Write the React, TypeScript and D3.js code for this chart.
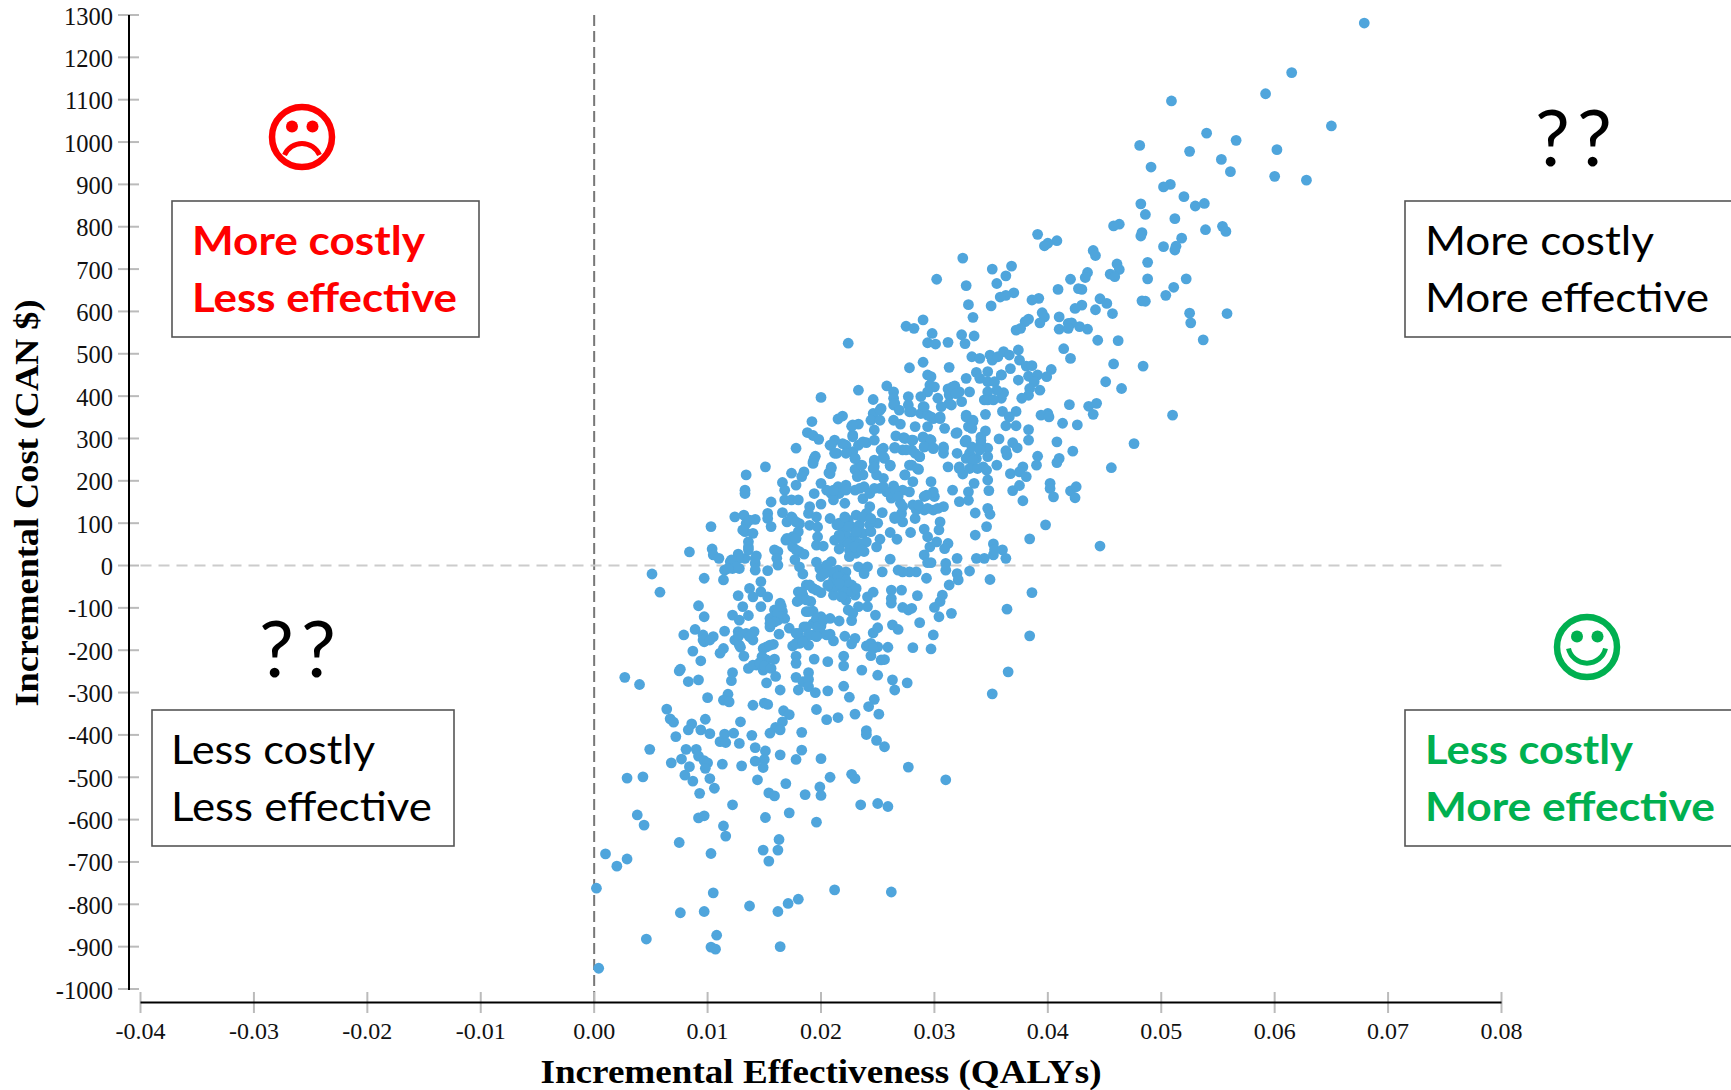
import React from "react";
import * as d3 from "d3";

// Each point: [incremental effectiveness in 0.001 QALY, incremental cost in CAN $]
const upperTail: number[][] = [
[67.9,1281],[61.5,1164],[59.2,1114],[50.9,1097],[65,1038],[54,1021],[56.6,1004],[48.1,992],[52.5,978],[60.2,982],[55.3,959],[49.1,941],[56.1,930],[60,919],[62.8,910],[50.8,900],[50.2,894],[52,871],[53,849],[53.8,855],[48.2,854],[48.6,829],[51.2,819],[46.3,806],[45.8,802],[55.4,801],[55.7,789],[53.9,793],[48.3,786],[48.2,778],[51.8,773],[39.1,782],[40.8,767],[40,761],[39.7,755],[50.2,753],[51.3,754],[51.2,745],[44,744],[44.2,732],[36.8,707],[46.1,712],[46.3,699],[45.5,688],[45.9,682],[48.8,716],[43.5,692],[43.3,680],[36.3,684],[42,676],[48.8,677],[52.2,677],[51.1,657],[42.7,654],[43,652],[40.9,652],[37,644],[36.3,638],[35.8,634],[39.2,631],[38.6,627],[44.6,630],[45.2,619],[50.4,638],[48.3,625],[48.6,624],[43,615],[42.4,607],[44.2,604],[45.7,595],[52.5,596],[55.8,595],[52.6,573],[39.5,597],[39.7,587],[38.3,582],[38,576],[39.3,573],[41,587],[37.6,560],[37.2,556],[41,558],[41.8,572],[42.1,573],[41.8,560],[42.8,564],[43.5,558],[53.7,533],[44.4,532],[46.2,531],[41.4,512],[37.4,509],[36.1,505],[36.6,497],[42,489],[45.8,476],
[32.5,726],[35.1,700],[35.5,666],[30.2,676],[32.8,661],[33,616],[35,613],[33.4,586],[29,580],[27.5,565],[28.2,560],[29.8,548],[32.4,545],[33.5,542],[29.4,526],[30.1,523],[31.2,527],[32.7,524],[22.4,525],
];
const rightFlank: number[][] = [
[48.4,471],[45.1,434],[46.5,418],[44.3,383],[43.6,376],[44,357],[41.9,380],[40,359],[39.4,355],[40.1,351],[41.3,336],[42.6,332],[40.8,292],[42.2,270],[47.6,288],[45.6,231],[41,253],[40.8,243],
[36.7,465],[35.9,450],[37.5,485],[38.1,471],[38.6,472],[37.4,438],[38.3,447],[39.1,450],[39.9,446],[40.3,463],[38.8,434],[39.3,414],[38.4,418],[38.3,402],[37.7,395],[36.1,408],[35.9,395],[37.2,364],[36,364],[36.6,351],[37.2,330],[36.3,330],[38.3,321],[38.3,296],[36.9,290],[37.3,278],[36.3,271],[36.4,261],[39.1,258],[39,237],[35.7,299],[37.8,233],[36.7,217],[37.5,221],[38.1,210],
[36.9,177],[37.8,153],[39.8,96],[38.4,63],[38.6,-64],[36.4,-103],[38.4,-166],[40.2,194],[40.2,182],[44.6,46],[36.5,-251],[51,355],[40.5,162],[42,176],[42.5,186],[42.4,160],[37.5,189],
];
const centralCloud: number[][] = [
[33.3,493],[34,489],[34.9,497],[35.1,485],[35.6,493],[27.8,467],[29,480],[31.3,468],[29.4,450],[29.7,446],[32.8,442],[33.7,456],[34.7,458],[34,442],[34.7,434],[35.3,434],[35.9,450],[35.5,414],[23.3,414],[20,397],[24.6,392],[25.8,424],[26.4,410],[29.6,426],[30,422],[29.4,410],[31.2,417],[31.8,424],[32.2,410],[33.1,410],[31.3,403],[32.4,387],[31.3,383],[30.3,395],[28.8,399],[27.7,399],[26.4,395],[26.4,379],[27.7,379],[25.3,371],[24.6,359],[24.4,343],[25.2,343],[26.4,343],[27,334],[28,363],[28.3,328],[29,375],[28.8,359],[29.4,355],[29.9,347],[30.5,347],[29.4,328],[30.9,324],[32.8,355],[33.4,343],[34.5,357],[34.4,391],[33,328],[32,314],[34.5,318],[32.8,296],[34.1,296],[34.7,277],[32,265],[33.1,265],[33.7,253],[34.7,257],[31.2,233],[32.2,233],[32.5,216],[33.3,233],[34.3,233],[35.5,237],[34.7,202],[33.5,194],[34.8,177],[33,174],[31.6,178],[32.2,151],[33,154],[34.7,135],[34.9,121],[33.6,124],[34.6,92],[33.6,72],[35.2,51],[36,37],[36.3,17],[33.7,17],[34.4,17],[35.2,25],[35.3,37],[33.1,-13],[34.9,-33],[32,17],[31,5],[31,-11],[32,-19],[32.1,-34],[31.3,-46],[30.7,-70],[30.5,-85],[30,-99],[30.4,-121],[31.5,-113],[29.9,-164],[28.7,-135],[28.5,-71],[27.1,-58],[26.2,-58],[26.2,-78],[26.2,-89],[27.2,-99],[27.7,-105],[28,-101],[29.3,-30],[28.4,-15],[27.8,-15],[27.2,-15],[26.8,-11],[25.4,-15],[26.1,15],[29.1,25],[29.4,7],[29.7,7],[30.2,56],[29.6,44],[31.2,52],[30.9,40],[30.5,103],[30.4,84],[29.1,86],[29.4,68],[27.9,78],[26.7,62],[26.1,78],[25,100],[25.2,62],[24.9,44],[25.4,125],[26.5,111],[27.2,103],[28.3,111],[28.4,131],[28.1,143],[29.1,131],[29.9,131],[30.8,139],[30,163],[29.1,163],[29.9,174],[29.7,198],[28.1,198],[27.8,174],[27.2,178],[26.4,188],[25.8,174],[25.2,182],[26.2,159],[27,147],[27.1,123],[25.5,206],[27.4,214],[28,237],[28.6,227],[26.1,235],[25.6,253],[25.5,277],[24.7,245],[24.6,229],[23.4,237],[23,227],[23.2,210],[23.7,214],[24.9,214],[23,253],[22.8,269],[23.3,284],[24,290],[24.7,296],[22.8,308],[22.2,284],[22.7,329],[23.3,334],[21.2,296],[20.8,284],[21.4,265],[26.6,306],[27.3,302],[28,296],[29,302],[29.6,298],[26.5,279],[27.2,273],[28,273],[28.7,257],[29.1,280],[29.9,278],[30.8,276],[30.8,265],[21.5,346],[21.9,353],[19.2,340],[18.8,314],[19.3,307],[19.8,298],[17.8,277],[19.5,258],[19.3,245],[20.9,232],[20.7,219],[18.5,221],[15.1,233],[13.4,214],[13.3,178],[13.3,170],[17.4,218],[18.3,210],[17.8,190],[16.6,196],[16.8,178],[16.8,155],[17.4,155],[18,155],[15.6,150],[16.6,125],[15.3,123],[15.3,111],[15.6,92],[13.2,119],[12.4,115],[14.2,109],[13.4,99],[13.3,80],[14,76],[10.3,92],[13.6,56],[13.6,44],[8.4,32],[10.4,39],[10.5,25],[11,17],[12.7,27],[13.3,17],[14.3,23],[12,9],[12.8,-7],[12.2,-7],[14.2,5],[14.2,-11],[11.5,-11],[11.4,-34],[9.7,-30],[5.1,-20],[5.8,-63],[15.3,-12],[15.9,37],[16.2,33],[16.1,17],[16.2,1],[16.9,60],[17.5,68],[18,80],[17.5,44],[18.1,33],[18.5,27],[17.7,14],[18.1,-3],[18.4,-20],[17,103],[17.5,111],[18.1,99],[19,139],[18.9,123],[19.6,115],[19,95],[19.7,91],[19.7,68],[19.6,48],[20.2,46],[19.4,170],[20,194],[20,145],[20.9,170],[21.5,186],[22.2,190],[23,178],[23.8,186],[21.6,170],[21.1,155],[22.1,147],[23.7,158],[24.3,139],[24,123],[23.1,119],[22.4,107],[20.8,111],[21.4,96],[22,88],[22.7,92],[23.4,96],[24.3,96],[22.2,72],[23,72],[23.7,76],[21.2,60],[22,56],[22.7,56],[23.4,52],[24,56],[21.6,39],[22.5,37],[23.1,29],[23.8,33],[22.5,21],[23.3,-3],[24.1,-3],[23.8,-19],[19.6,8],[20.9,9],[19.9,-7],[20.6,-15],[21.5,-11],[20,-26],[22.2,-15],[21.1,-34],[22,-30],[22.7,-46],[18.7,-46],[19.3,-54],[20,-64],[20.8,-50],[21.1,-70],[21.8,-54],[22.4,-62],[23,-70],[22.2,-82],[22.4,-105],[23.3,-97],[22.8,-113],[24.1,-74],[24.6,-63],[24.1,-97],[24.8,-117],[22.7,-130],[18,-62],[18.4,-70],[17.9,-85],[19.1,-85],[18.7,-109],[19.3,-108],[14.7,-38],[13.7,-54],[14.7,-62],[12.7,-71],[14,-74],[15.3,-74],[13.1,-97],[14.7,-97],[9.2,-95],[9.7,-121],[12.2,-117],[12.8,-129],[13.6,-118],[16.4,-89],[15.9,-105],[16.6,-109],[15.5,-125],[16.8,-125],[15.5,-145],[16.2,-129],[16.3,-162],[17.2,-148],[8.9,-151],[7.9,-164],[9.6,-164],[10.5,-168],[9.7,-180],[11.5,-155],[12.7,-156],[13.4,-160],[14.1,-156],[12.4,-176],[14,-176],[18.5,-145],[19.3,-137],[20,-121],[20.8,-125],[21.6,-131],[20,-143],[18,-160],[19.3,-164],[20,-160],[20.8,-162],[22.1,-167],[23,-172],[21.1,-178],[22.7,-185],[18.1,-184],[18.9,-188],[17.5,-190],[24.6,-159],[25,-147],[26.3,-140],[26.8,-151],[24,-190],[24.4,-184],[25,-192],[25.9,-193],[28.1,-194],[29.7,-197],[15.8,-186],[14.9,-196],[12.9,-193],[11.4,-196],[8.7,-202],
];
const denseUpper: number[][] = [
[34.7,410],[34.7,391],[35.2,391],[26.5,383],[25.2,367],[26.9,367],[27.8,363],[29.1,375],[29.7,351],[30.5,351],[31.6,422],[30.6,375],[31.5,379],[31.9,406],[32.8,351],[33.4,340],[33.3,324],[31.9,312],[32.7,292],[33.3,280],[34.1,304],[34.1,288],[34,273],[32.8,253],[33.4,249],[33.1,229],[32.2,229],[33.8,229],[34.6,225],[27.4,300],[28.1,296],[29,304],[29.7,296],[26.5,277],[27.5,273],[28.3,265],[29.1,280],[29.9,276],[30.8,280],[28.7,257],[25.3,273],[25.5,257],[26.1,237],[24.7,249],[24.7,233],[23.6,237],[24.7,320],[22.8,332],[22.8,304],[23.7,292],[21.9,288],[20.9,284],[21.2,265],[22.2,265],[23,253],[19.4,253],[19.3,241],[20.9,229],[20.8,217],[27.8,237],[28.5,229],[27.4,214],
];
const denseLower: number[][] = [
[22.4,92],[23.1,80],[22.4,52],[23,44],[23.6,37],[21.6,100],[22.1,115],[23.7,115],[24.4,111],[21.6,72],[24.4,80],[21.1,-15],[21.5,-26],[22.2,-34],[22.4,-46],[21.1,-50],[22.1,-62],[22.7,-62],[21.8,-74],[23.1,-54],[20.5,1],[20.3,-19],[21.6,-42],[24.3,170],[24.7,182],[25.5,186],[26.1,170],[26.6,178],[26.8,163],[27.2,139],[26.5,115],[20.5,178],[21.1,178],[22.2,178],[23.4,182],[28.6,143],[30.3,135],[29.4,135],[29.3,166],[17.4,115],[17.8,103],[17,64],[17.8,64],[17.8,37],[13.1,84],[13.7,107],[13.6,37],[12.7,17],[12.1,13],[12.5,-3],[11.8,-7],[14.2,17],[20.6,-46],[19.6,-58],[19,-46],[18.3,-62],[18.1,-81],[18.7,-81],[18.9,-109],[15.9,-121],[16.2,-113],[16.5,-97],[15.9,-133],[15.5,-137],[18.7,-145],[19.6,-125],[19.7,-145],[20.2,-129],[18.9,-164],[19.6,-168],[18.1,-172],[17.8,-160],[20.5,-164],[9.6,-176],[10.2,-176],[12.7,-168],[12.8,-188],[13.7,-168],[24.3,-188],[24.6,-196],[15.2,-192],[15.5,-188],[17.8,-184],[18.4,-180],[14.3,-235],[15.2,-223],[14.9,-247],
];
const lowerTail: number[][] = [
[9.4,-225],[11.1,-207],[13.2,-214],[14.8,-215],[15.9,-221],[17.8,-214],[17.8,-231],[19.4,-221],[20.6,-227],[22,-214],[22,-237],[24.4,-213],[25.3,-223],[25.6,-222],[7.6,-245],[7.5,-249],[12.2,-253],[12.1,-272],[13.6,-243],[14,-235],[14.6,-229],[15,-237],[15.6,-243],[16,-262],[15.2,-277],[16.4,-294],[17.8,-264],[18.9,-253],[18.4,-274],[18.9,-269],[18,-294],[18.9,-286],[19.5,-300],[20.6,-296],[23.6,-247],[25,-259],[22,-285],[22.5,-311],[26.3,-270],[26.5,-294],[27.6,-277],[2.7,-264],[4,-281],[8.3,-274],[9.2,-270],[10,-312],[11.8,-304],[11.4,-318],[11.9,-322],[14,-330],[15,-325],[15.3,-328],[6.4,-339],[6.7,-362],[7,-370],[9.8,-363],[8.6,-374],[8.3,-388],[9.4,-388],[10.2,-397],[7.2,-404],[12.9,-369],[11.5,-398],[12.3,-396],[11.1,-416],[11.6,-418],[12.8,-420],[13.9,-401],[16.7,-343],[17.2,-352],[16.6,-369],[16,-382],[16.4,-388],[15.5,-396],[19.6,-340],[20.5,-364],[21.5,-359],[23,-351],[24.7,-316],[24.2,-333],[25.1,-351],[18.3,-394],[24,-390],[24,-399],[24.9,-413],[25.6,-428],[4.9,-434],[8.1,-434],[9,-434],[7.7,-457],[9.2,-450],[6.8,-466],[8.4,-475],[9.7,-461],[10,-466],[9.8,-479],[11.3,-469],[13,-473],[14.2,-430],[15.1,-438],[15,-458],[14.2,-462],[14.9,-477],[16.4,-447],[18.3,-436],[17.8,-458],[20,-456],[2.9,-502],[4.3,-499],[8,-495],[8.7,-509],[10.2,-503],[10.6,-526],[9.3,-538],[14.4,-506],[16.9,-515],[15.4,-537],[15.9,-544],[18.6,-541],[19.9,-523],[20,-543],[20.8,-500],[22.7,-493],[23,-503],[27.7,-476],[31,-506],[35.1,-303],[12.2,-565],[23.5,-565],[25,-562],[25.9,-569],[3.8,-589],[4.4,-613],[9.2,-596],[9.7,-591],[15.1,-595],[17.2,-584],[19.6,-606],[11.4,-615],[11.6,-639],[7.5,-654],[16.3,-647],[14.9,-672],[16.2,-672],[15.4,-698],[10.3,-680],[1,-681],[2.9,-693],[2,-710],[10.5,-773],[21.2,-766],[26.2,-771],[18,-788],[17.1,-798],[13.7,-804],[16.2,-817],[9.7,-817],[7.6,-820],[10.8,-873],[4.6,-882],[10.3,-901],[10.7,-906],[16.4,-900],[0.4,-951],[0.2,-762],
];

const yTicks = [1300,1200,1100,1000,900,800,700,600,500,400,300,200,100,0,-100,-200,-300,-400,-500,-600,-700,-800,-900,-1000];
const xTicks = [-0.04,-0.03,-0.02,-0.01,0,0.01,0.02,0.03,0.04,0.05,0.06,0.07,0.08];
const xTitle = "Incremental Effectiveness (QALYs)";
const yTitle = "Incremental Cost (CAN $)";
const quadrantLabels = [
  { lines: ["More costly", "Less effective"], widths: [233, 265], color: "#FF0000", weight: 700, box: [172, 201, 307, 136], tx: 192 },
  { lines: ["More costly", "More effective"], widths: [229, 284], color: "#000000", weight: 400, box: [1405, 201, 340, 136], tx: 1425 },
  { lines: ["Less costly", "Less effective"], widths: [204, 261], color: "#000000", weight: 400, box: [152, 710, 302, 136], tx: 171 },
  { lines: ["Less costly", "More effective"], widths: [208, 290], color: "#00B050", weight: 700, box: [1405, 710, 340, 136], tx: 1425 },
];

const serif = "'Liberation Serif', serif";
const sans = "Lato, 'Open Sans', sans-serif";
const blue = "#4FA5DC";

const x = d3.scaleLinear().domain([-0.04, 0.08]).range([140.5, 1501.5]);
const y = d3.scaleLinear().domain([-1000, 1300]).range([989, 15]);

function Face({ cx, cy, color, smile }: { cx: number; cy: number; color: string; smile: boolean }) {
  const mouth = smile
    ? `M${cx - 18.5},${cy + 1.5} A19,19 0 0 0 ${cx + 18.5},${cy + 1.5}`
    : `M${cx - 17.5},${cy + 18} A19,19 0 0 1 ${cx + 17.5},${cy + 18}`;
  return (
    <g>
      <circle cx={cx} cy={cy} r={30} fill="none" stroke={color} strokeWidth={6.5} />
      <circle cx={cx - 10} cy={cy - 10.5} r={6} fill={color} />
      <circle cx={cx + 10.5} cy={cy - 10.5} r={6} fill={color} />
      <path d={mouth} fill="none" stroke={color} strokeWidth={5} />
    </g>
  );
}

export default function App() {
  const points = [...upperTail, ...rightFlank, ...centralCloud, ...denseUpper, ...denseLower, ...lowerTail];
  return (
    <svg width={1731} height={1090} style={{ position: "absolute", left: 0, top: 0, background: "#fff" }}>
      {/* reference lines */}
      <line x1={x(0)} x2={x(0)} y1={15} y2={1002} stroke="#777" strokeWidth={2} strokeDasharray="11 5" />
      <line x1={x(-0.04)} x2={1506} y1={y(0)} y2={y(0)} stroke="#ccc" strokeWidth={2} strokeDasharray="11 7" />

      {/* y axis */}
      {yTicks.map((t) => (
        <g key={t}>
          <line x1={118} x2={139} y1={y(t)} y2={y(t)} stroke="#bbb" strokeWidth={2} />
          <text x={113} y={y(t) + 9.5} textAnchor="end" fontFamily={serif} fontSize={24.5} fill="#111">{t}</text>
        </g>
      ))}
      <line x1={129} x2={129} y1={15} y2={990} stroke="#000" strokeWidth={2} />

      {/* x axis */}
      {xTicks.map((t) => (
        <g key={t}>
          <line x1={x(t)} x2={x(t)} y1={992} y2={1013} stroke="#bbb" strokeWidth={2} />
          <text x={x(t)} y={1039} textAnchor="middle" fontFamily={serif} fontSize={24} fill="#111">{t.toFixed(2)}</text>
        </g>
      ))}
      <line x1={x(-0.04)} x2={x(0.08)} y1={1002.5} y2={1002.5} stroke="#000" strokeWidth={2} />

      {/* axis titles */}
      <text x={821} y={1083} textAnchor="middle" fontFamily={serif} fontWeight={700} fontSize={34} textLength={561} lengthAdjust="spacingAndGlyphs">{xTitle}</text>
      <text transform="translate(38,503) rotate(-90)" textAnchor="middle" fontFamily={serif} fontWeight={700} fontSize={34} textLength={407} lengthAdjust="spacingAndGlyphs">{yTitle}</text>

      {/* points */}
      {points.map((p, i) => (
        <circle key={i} cx={x(p[0] / 1000)} cy={y(p[1])} r={5.4} fill={blue} />
      ))}

      {/* quadrant boxes */}
      {quadrantLabels.map((q, i) => (
        <g key={i}>
          <rect x={q.box[0]} y={q.box[1]} width={q.box[2]} height={q.box[3]} fill="#fff" stroke="#555" strokeWidth={1.6} />
          {q.lines.map((l, j) => (
            <text key={j} x={q.tx} y={q.box[1] + 54 + j * 57} fontFamily={sans} fontWeight={q.weight} fontSize={41} fill={q.color} textLength={q.widths[j]} lengthAdjust="spacingAndGlyphs">{l}</text>
          ))}
        </g>
      ))}

      <Face cx={302} cy={137} color="#FF0000" smile={false} />
      <Face cx={1587} cy={647} color="#00B050" smile={true} />
      <text x={1577} y={166} textAnchor="middle" fontFamily={sans} fontSize={78} letterSpacing={7}>??</text>
      <text x={301} y={677} textAnchor="middle" fontFamily={sans} fontSize={78} letterSpacing={7}>??</text>
    </svg>
  );
}
